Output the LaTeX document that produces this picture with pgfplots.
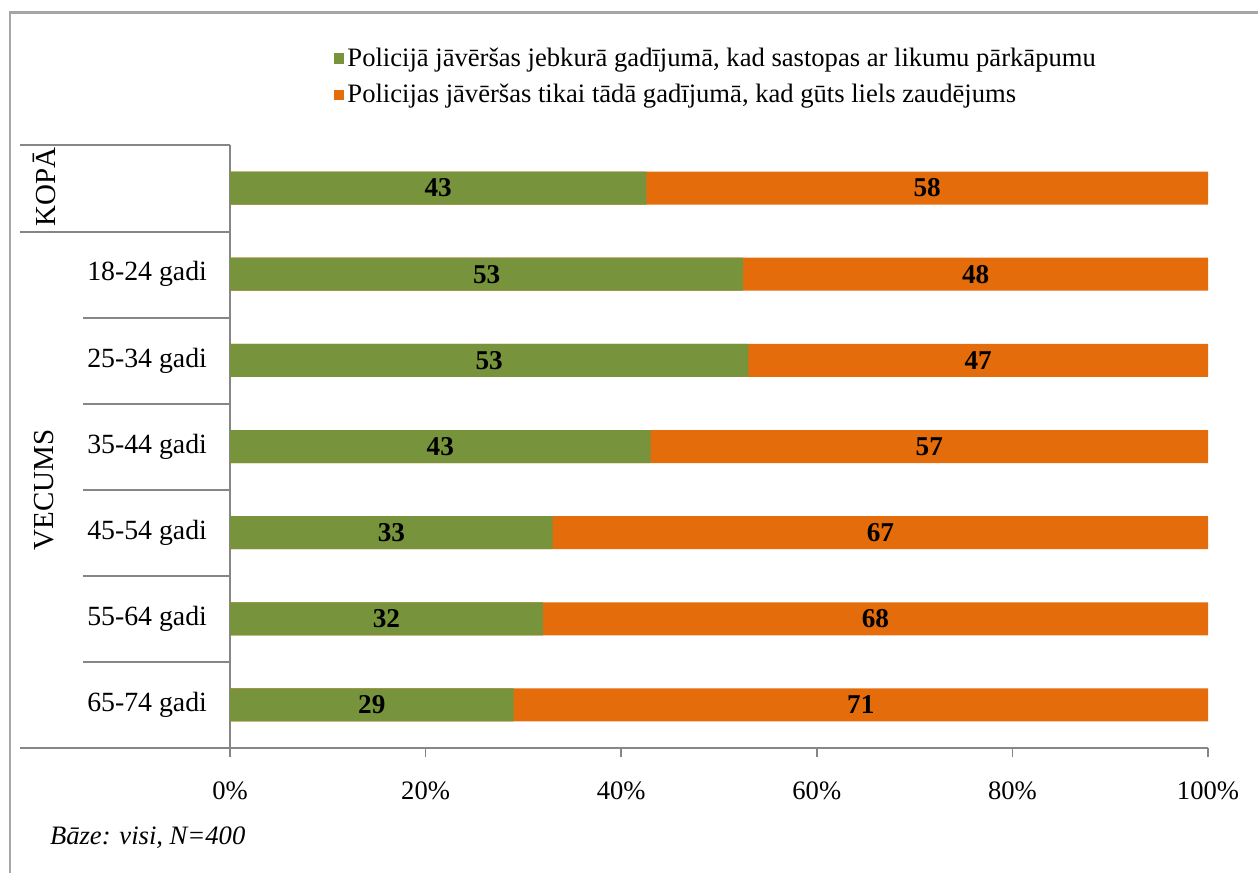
\documentclass[border=0pt]{standalone}
\usepackage{fontspec}
\setmainfont{Liberation Serif}
\usepackage{pgfplots}
\pgfplotsset{compat=1.18}
\usepackage{pgfplotstable}

\definecolor{barGreen}{HTML}{77933C}
\definecolor{barOrange}{HTML}{E46C0A}
\definecolor{lineGray}{HTML}{868686}

% rows: 1 = KOPA, 2..7 = age groups; a = green answer, b = orange answer
\pgfplotstableread{
y a b
1 43 58
2 53 48
3 53 47
4 43 57
5 33 67
6 32 68
7 29 71
}\agedata

\begin{document}
\begin{tikzpicture}[font=\fontsize{13.3bp}{15bp}\selectfont]
\path[use as bounding box] (0,0) rectangle (629bp,436.5bp);
\begin{axis}[
  at={(115bp,62.5bp)}, anchor=south west,
  width=489bp, height=301.5bp, scale only axis,
  xmin=0, xmax=100, ymin=0.5, ymax=7.5, y dir=reverse,
  axis x line*=bottom, axis y line*=left,
  axis line style={lineGray, line width=0.8bp},
  xtick={0,20,...,100},
  xticklabel={\pgfmathprintnumber{\tick}\%},
  ytick={2,...,7},
  yticklabels={18-24 gadi,25-34 gadi,35-44 gadi,45-54 gadi,55-64 gadi,65-74 gadi},
  tick align=outside,
  major tick length=4.5bp,
  x tick style={lineGray, line width=0.8bp},
  y tick style={draw=none},
  xticklabel style={yshift=-9bp},
  yticklabel style={xshift=-3.5bp, font=\fontsize{13.9bp}{15bp}\selectfont},
  /pgf/number format/assume math mode=true,
  legend image code/.code={\fill[#1] (0bp,-2.6bp) rectangle (5.2bp,2.6bp);},
  legend style={draw=none, fill=none, at={(0.106,1.167)}, anchor=north west,
    row sep=4.5bp, inner sep=0pt,
    nodes={inner sep=1.5bp}},
  legend cell align=left,
  clip=false,
]
% orange part spans the whole stack, green part is drawn over it
\addplot[xbar, bar width=16.5bp, bar shift=0pt, fill=barOrange, draw=none, forget plot]
  table[x expr={100*\thisrow{a}/(\thisrow{a}+\thisrow{b})+100*\thisrow{b}/(\thisrow{a}+\thisrow{b})}, y=y] {\agedata};
\addplot[xbar, bar width=16.5bp, bar shift=0pt, fill=barGreen, draw=none, forget plot]
  table[x expr={100*\thisrow{a}/(\thisrow{a}+\thisrow{b})}, y=y] {\agedata};

% value labels in the middle of each part
\addplot[only marks, mark=*, mark size=0pt, mark options={draw=none, fill=none},
  nodes near coords, point meta=explicit, forget plot,
  every node near coord/.style={anchor=center, font=\fontsize{13.6bp}{15bp}\selectfont\bfseries, text=black}]
  table[x expr={50*\thisrow{a}/(\thisrow{a}+\thisrow{b})}, y=y, meta=a] {\agedata};
\addplot[only marks, mark=*, mark size=0pt, mark options={draw=none, fill=none},
  nodes near coords, point meta=explicit, forget plot,
  every node near coord/.style={anchor=center, font=\fontsize{13.6bp}{15bp}\selectfont\bfseries, text=black}]
  table[x expr={50*\thisrow{a}/(\thisrow{a}+\thisrow{b})+50}, y=y, meta=b] {\agedata};

\addlegendimage{fill=barGreen, draw=none}
\addlegendentry{Policijā jāvēršas jebkurā gadījumā, kad sastopas ar likumu pārkāpumu}
\addlegendimage{fill=barOrange, draw=none}
\addlegendentry{Policijas jāvēršas tikai tādā gadījumā, kad gūts liels zaudējums}
\end{axis}

% category table lines on the left
\draw[lineGray, line width=0.8bp] (10bp,364bp) -- (115bp,364bp);
\draw[lineGray, line width=0.8bp] (10bp,320.5bp) -- (115bp,320.5bp);
\foreach \yy in {277.5,234.5,191.5,148.5,105.5}
  \draw[lineGray, line width=0.8bp] (41.5bp,\yy bp) -- (115bp,\yy bp);
\draw[lineGray, line width=0.8bp] (10bp,62.5bp) -- (115bp,62.5bp);

\node[rotate=90, font=\fontsize{14.5bp}{15bp}\selectfont] at (22bp,343bp) {KOPĀ};
\node[rotate=90, font=\fontsize{14.5bp}{15bp}\selectfont] at (22bp,191.5bp) {VECUMS};

\node[anchor=west, font=\fontsize{13.3bp}{15bp}\selectfont\itshape] at (21.5bp,17.5bp) {Bāze: visi, N=400};

% outer frame
\draw[gray!70, line width=1.2bp] (5bp,-5bp) -- (5bp,430.3bp) -- (640bp,430.3bp);
\end{tikzpicture}
\end{document}
